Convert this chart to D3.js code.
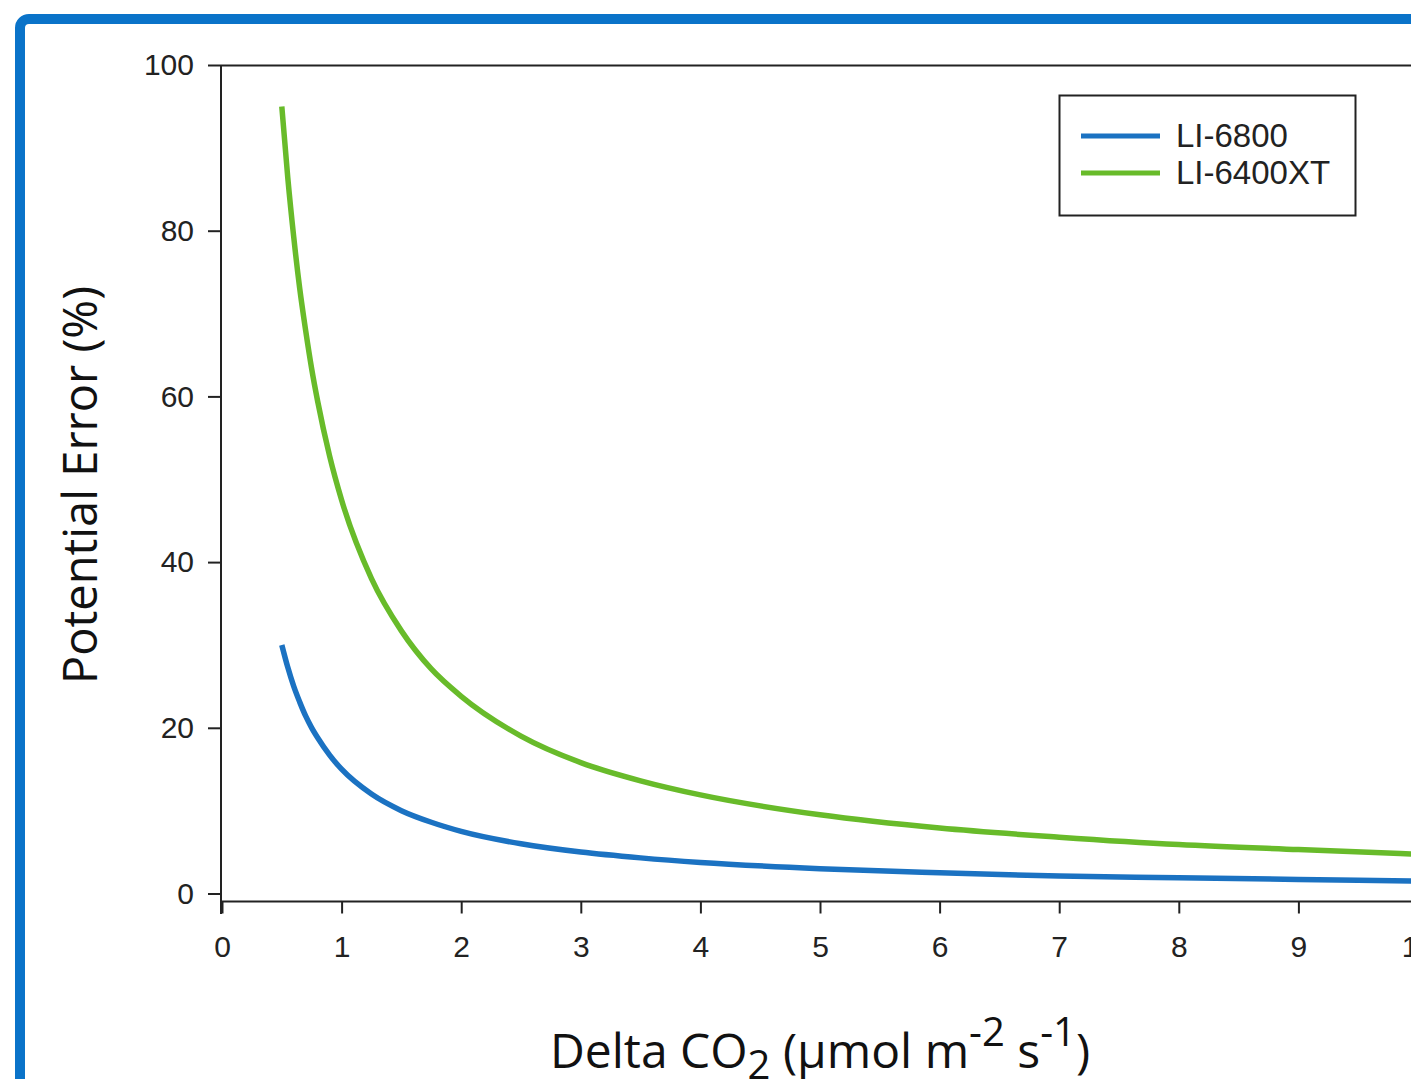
<!DOCTYPE html>
<html>
<head>
<meta charset="utf-8">
<script src="https://cdn.jsdelivr.net/npm/d3@7"></script>
<style>
  body { margin: 0; background: #fff; }
  svg { display: block; }
</style>
</head>
<body>
<div id="chart"></div>
<script>
// values
const deltaCO2 = [0.5, 0.55, 0.6, 0.65, 0.7, 0.75, 0.8, 0.9, 1, 1.25, 1.5, 1.75, 2, 2.5, 3, 3.5, 4, 5, 6, 7, 8, 9, 10];
const li6800 = [30, 27.3, 25, 23.1, 21.4, 20, 18.8, 16.7, 15, 12, 10, 8.6, 7.5, 6, 5, 4.3, 3.75, 3, 2.5, 2.1, 1.9, 1.7, 1.5];
const li6400 = [95, 86.4, 79.2, 73, 67.9, 63.3, 59.4, 52.8, 47.5, 38, 31.7, 27.1, 23.8, 19, 15.8, 13.6, 11.9, 9.5, 7.9, 6.8, 5.9, 5.3, 4.75];
const xTicks = [0, 1, 2, 3, 4, 5, 6, 7, 8, 9, 10];
const yTicks = [0, 20, 40, 60, 80, 100];
const seriesNames = ['LI-6800', 'LI-6400XT'];
const seriesColors = ['#1b72c2', '#68bb2a'];

const width = 1411, height = 1079;
const axisColor = '#222';
const tickFont = 'Liberation Sans, Arial, sans-serif';
const titleFont = 'Open Sans, Noto Sans, sans-serif';

const svg = d3.select('#chart').append('svg')
  .attr('width', width)
  .attr('height', height);

// blue frame around the figure (runs off the right and bottom)
svg.append('rect')
  .attr('x', 20).attr('y', 19)
  .attr('width', 1500).attr('height', 1200)
  .attr('rx', 9)
  .attr('fill', 'none')
  .attr('stroke', '#0a73c9')
  .attr('stroke-width', 10);

const x = d3.scaleLinear().domain([0, 10]).range([222, 1418]);
const y = d3.scaleLinear().domain([0, 100]).range([893.5, 65]);
const axisY = 901.5;

// top of plot frame
svg.append('line')
  .attr('x1', 221).attr('x2', 1425)
  .attr('y1', 65.5).attr('y2', 65.5)
  .attr('stroke', axisColor).attr('stroke-width', 2);

// y axis
const gy = svg.append('g')
  .attr('transform', 'translate(221,0)')
  .call(d3.axisLeft(y).tickValues(yTicks).tickSize(13).tickSizeOuter(0).tickPadding(14));
gy.select('.domain').remove();
gy.append('line')
  .attr('x1', 0).attr('x2', 0)
  .attr('y1', 65).attr('y2', 914)
  .attr('stroke', axisColor).attr('stroke-width', 2);

// x axis (offset below y=0)
const gx = svg.append('g')
  .attr('transform', `translate(0,${axisY})`)
  .call(d3.axisBottom(x).tickValues(xTicks).tickSize(12).tickSizeOuter(0).tickPadding(22));
gx.select('.domain').remove();
gx.append('line')
  .attr('x1', 221).attr('x2', 1425)
  .attr('y1', 0).attr('y2', 0)
  .attr('stroke', axisColor).attr('stroke-width', 2);

[gx, gy].forEach(g => {
  g.selectAll('.tick line').attr('stroke', axisColor).attr('stroke-width', 2);
  g.selectAll('.tick text')
    .attr('fill', axisColor)
    .style('font-family', tickFont)
    .style('font-size', '30px');
});

// curves
const line = d3.line()
  .x(d => x(d[0]))
  .y(d => y(d[1]))
  .curve(d3.curveMonotoneX);

[li6800, li6400].forEach((vals, i) => {
  svg.append('path')
    .datum(deltaCO2.map((d, j) => [d, vals[j]]))
    .attr('fill', 'none')
    .attr('stroke', seriesColors[i])
    .attr('stroke-width', 5.5)
    .attr('d', line);
});

// legend
const legend = svg.append('g');
legend.append('rect')
  .attr('x', 1059.5).attr('y', 95.5)
  .attr('width', 296).attr('height', 120)
  .attr('fill', '#fff')
  .attr('stroke', axisColor).attr('stroke-width', 2);
seriesNames.forEach((name, i) => {
  const ly = 136 + i * 37;
  legend.append('line')
    .attr('x1', 1081).attr('x2', 1160)
    .attr('y1', ly).attr('y2', ly)
    .attr('stroke', seriesColors[i]).attr('stroke-width', 5);
  legend.append('text')
    .attr('x', 1176).attr('y', ly + 11)
    .attr('fill', axisColor)
    .style('font-family', tickFont)
    .style('font-size', '33px')
    .text(name);
});

// axis titles
svg.append('text')
  .attr('transform', 'translate(97,485) rotate(-90)')
  .attr('text-anchor', 'middle')
  .attr('fill', '#111')
  .style('font-family', titleFont)
  .style('font-size', '47px')
  .text('Potential Error (%)');

const xt = svg.append('text')
  .attr('x', 820).attr('y', 1068)
  .attr('text-anchor', 'middle')
  .attr('fill', '#111')
  .style('font-family', titleFont)
  .style('font-size', '48px');
xt.append('tspan').text('Delta CO');
xt.append('tspan').attr('dy', 11).style('font-size', '40px').text('2');
xt.append('tspan').attr('dy', -11).text(' (µmol m');
xt.append('tspan').attr('dy', -22).style('font-size', '40px').text('-2');
xt.append('tspan').attr('dy', 22).text(' s');
xt.append('tspan').attr('dy', -22).style('font-size', '40px').text('-1');
xt.append('tspan').attr('dy', 22).text(')');
</script>
</body>
</html>
